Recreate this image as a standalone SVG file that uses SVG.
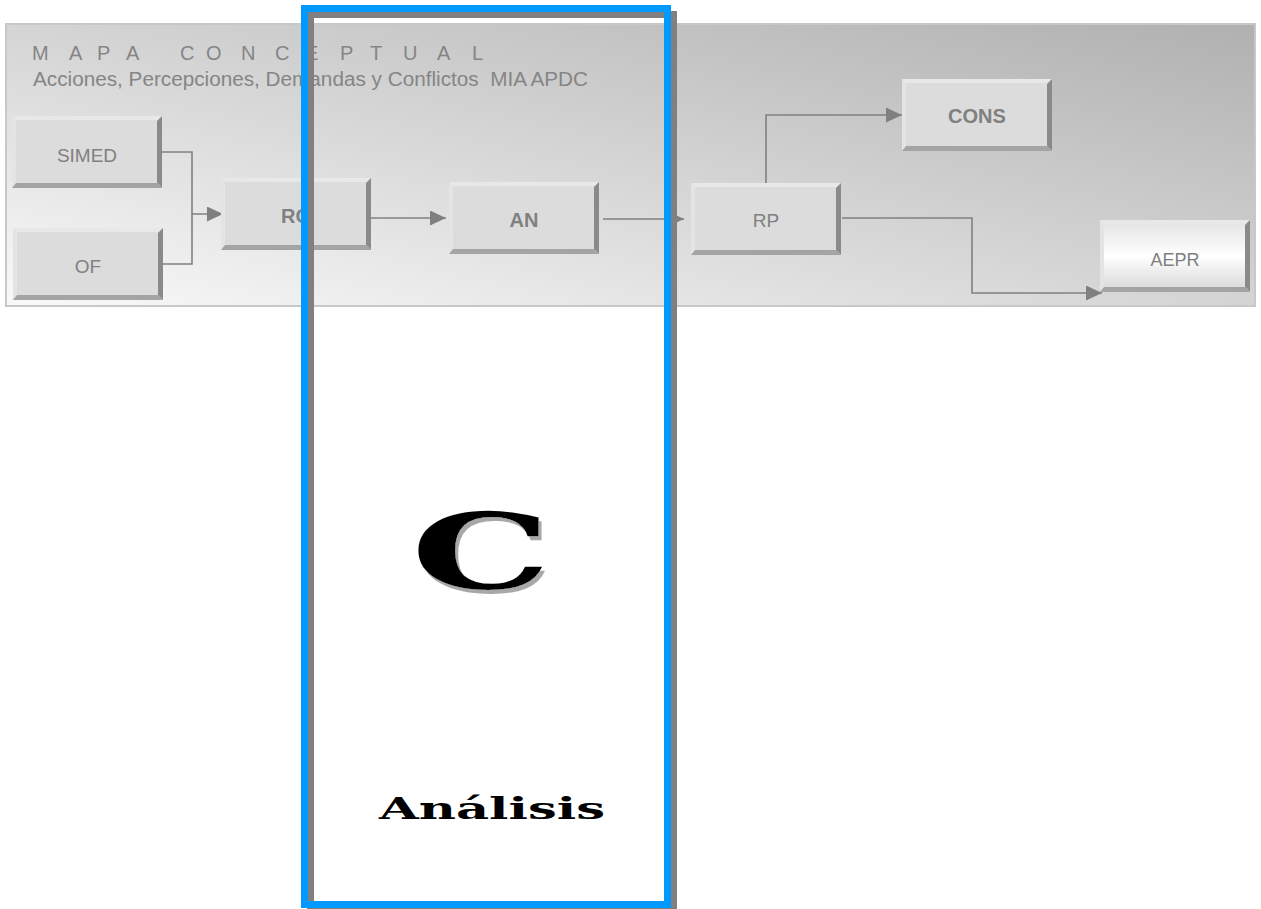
<svg xmlns="http://www.w3.org/2000/svg" width="1261" height="909" viewBox="0 0 1261 909">
  <style>
    .lbl { font-family: "Liberation Sans", Arial, sans-serif; font-size: 19px; fill: #808080; text-anchor: middle; }
    .bold { font-weight: bold; font-size: 20px; }
    .ttl { font-family: "Liberation Sans", Arial, sans-serif; font-size: 20px; fill: #858585; }
    .conn { fill: none; stroke: #808080; stroke-width: 1.6; }
    .wide { font-family: "DejaVu Serif", "Liberation Serif", serif; font-weight: bold; }
  </style>
  <defs>
    <linearGradient id="panelGrad" x1="0" y1="1" x2="1" y2="0">
      <stop offset="0" stop-color="#f9f9f9"/>
      <stop offset="1" stop-color="#b0b0b0"/>
    </linearGradient>
    <linearGradient id="glossGrad" x1="0" y1="0" x2="0" y2="1">
      <stop offset="0" stop-color="#e2e2e2"/>
      <stop offset="0.5" stop-color="#ffffff"/>
      <stop offset="1" stop-color="#d6d6d6"/>
    </linearGradient>
    <filter id="shadow" x="-10%" y="-10%" width="130%" height="130%">
      <feDropShadow dx="3" dy="4" stdDeviation="0.6" flood-color="#a8a8a8" flood-opacity="1"/>
    </filter>
    <g id="bevel">
      <polygon points="0,0 150,0 146,4 4,4" fill="#e8e8e8"/>
      <polygon points="0,0 4,4 4,68 0,72" fill="#e4e4e4"/>
      <polygon points="150,0 150,72 145,67 145,5" fill="#8a8a8a"/>
      <polygon points="0,72 150,72 145,67 4,67" fill="#a4a4a4"/>
    </g>
    <marker id="arr" markerUnits="userSpaceOnUse" markerWidth="16" markerHeight="16" refX="16" refY="7.5" orient="auto">
      <polygon points="0,0 16,7.5 0,15" fill="#808080"/>
    </marker>
  </defs>

  <!-- background panel -->
  <rect x="6" y="24" width="1249" height="282" fill="url(#panelGrad)" stroke="#c8c8c8" stroke-width="2"/>
  <text class="ttl" x="32 50 69 85 97 112 126 150 180 195 206 225 241 260 275 292 305 325 340 357 370 388 403 422 437 457 472" y="60">M A P A C O N C E P T U A L</text>
  <text class="ttl" x="33" y="86" xml:space="preserve" textLength="555" lengthAdjust="spacingAndGlyphs">Acciones, Percepciones, Demandas y Conflictos  MIA APDC</text>

  <!-- connectors -->
  <g id="connectors">
    <path class="conn" d="M162,152 H192 V214 H223" marker-end="url(#arr)"/>
    <path class="conn" d="M158,264 H192 V214"/>
    <path class="conn" d="M366,218 H446" marker-end="url(#arr)"/>
    <path class="conn" d="M603,219 H684" marker-end="url(#arr)"/>
    <path class="conn" d="M766,183 V115 H902" marker-end="url(#arr)"/>
    <path class="conn" d="M842,218 H972 V293 H1102" marker-end="url(#arr)"/>
  </g>

  <!-- nodes -->
  <g id="node-simed" transform="translate(12,116)">
    <rect width="150" height="72" fill="#dcdcdc"/>
    <use href="#bevel"/>
    <text class="lbl" x="75" y="46">SIMED</text>
  </g>
  <g id="node-of" transform="translate(13,228)">
    <rect width="150" height="72" fill="#dcdcdc"/>
    <use href="#bevel"/>
    <text class="lbl" x="75" y="45">OF</text>
  </g>
  <g id="node-ro" transform="translate(221,178)">
    <rect width="150" height="72" fill="#dcdcdc"/>
    <use href="#bevel"/>
    <text class="lbl bold" x="75" y="45">RO</text>
  </g>
  <g id="node-an" transform="translate(449,182)">
    <rect width="150" height="72" fill="#dcdcdc"/>
    <use href="#bevel"/>
    <text class="lbl bold" x="75" y="45">AN</text>
  </g>
  <g id="node-rp" transform="translate(691,183)">
    <rect width="150" height="72" fill="#dcdcdc"/>
    <use href="#bevel"/>
    <text class="lbl" x="75" y="44">RP</text>
  </g>
  <g id="node-cons" transform="translate(902,79)">
    <rect width="150" height="72" fill="#dcdcdc"/>
    <use href="#bevel"/>
    <text class="lbl bold" x="75" y="44">CONS</text>
  </g>
  <g id="node-aepr" transform="translate(1100,220)">
    <rect width="150" height="72" fill="url(#glossGrad)"/>
    <use href="#bevel"/>
    <text class="lbl" x="75" y="46" style="font-size:18px">AEPR</text>
  </g>

  <!-- highlight frame -->
  <g id="frame">
    <rect x="310.5" y="14.5" width="363" height="896" fill="none" stroke="#808080" stroke-width="7"/>
    <rect x="304.5" y="8.5" width="363" height="896" fill="none" stroke="#0099ff" stroke-width="7"/>
  </g>

  <!-- big letter and caption -->
  <text id="letter-c" class="wide" x="411" y="589" font-size="104" fill="#000000" textLength="140" lengthAdjust="spacingAndGlyphs" filter="url(#shadow)">C</text>
  <text id="caption" class="wide" x="379" y="819" font-size="29" fill="#000000" textLength="226" lengthAdjust="spacingAndGlyphs">Análisis</text>
</svg>
